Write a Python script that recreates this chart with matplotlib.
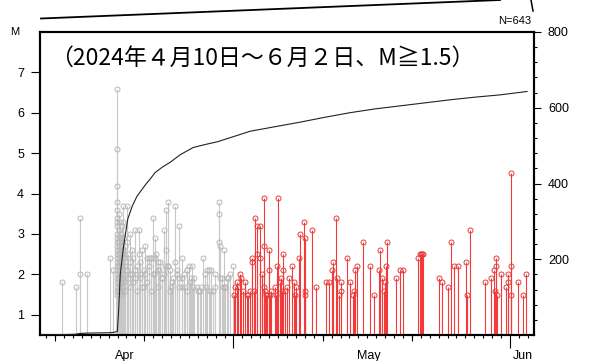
import matplotlib
matplotlib.use('Agg')
import matplotlib.pyplot as plt
from matplotlib.lines import Line2D
import numpy as np

# ---------------- data (days since 2024-04-10 00:00) ----------------
event_day = [
    1.76, 3.33, 3.73, 3.73, 4.60, 7.10, 7.54,
    7.97, 7.97, 7.97, 7.97, 7.97, 7.97, 7.97, 7.97, 7.97, 7.97, 7.97, 7.97,
    7.97, 7.97, 7.97, 7.97, 7.97, 7.97, 7.97, 7.97, 7.97, 7.97, 7.97, 7.97,
    8.11, 8.11, 8.11, 8.11, 8.11, 8.11, 8.11,
    8.22, 8.22, 8.22, 8.22, 8.22, 8.22,
    8.33, 8.33, 8.33, 8.33, 8.33, 8.33,
    8.44, 8.44, 8.44, 8.44, 8.44, 8.44,
    8.60, 8.60, 8.60, 8.60, 8.60,
    8.74, 8.74, 8.74, 8.86, 8.86, 8.86, 9.05, 9.05, 9.05,
    9.19, 9.19, 9.42, 9.42, 9.42, 9.59, 9.59, 9.75, 9.75,
    9.98, 9.98, 10.15, 10.15, 10.35, 10.35, 10.54, 10.54, 10.76, 10.76,
    10.93, 11.10, 11.10, 11.32, 11.32, 11.55, 11.72, 11.72, 11.96, 11.96,
    12.22, 12.22, 12.33, 12.56, 12.56, 12.78, 12.95, 13.26, 13.26,
    13.45, 13.45, 13.64, 13.64, 13.90, 13.90, 14.13, 14.46, 14.46, 14.69,
    14.94, 14.94, 15.21, 15.21, 15.47, 15.84, 15.84, 16.09, 16.33, 16.59,
    16.93, 17.26, 17.63, 17.88, 18.20, 18.46, 18.69, 18.95,
    19.32, 19.32, 19.32, 19.51, 19.70, 19.88, 20.07, 20.40, 20.63, 20.93,
    9.42, 9.98, 10.54, 10.91, 11.47, 11.77, 12.03, 12.48, 12.67, 12.97,
    13.34, 13.71, 13.98, 14.27, 14.65, 14.94, 15.21, 15.58, 15.77, 16.03,
    16.22, 16.45, 17.07, 17.38, 17.83, 18.01, 18.39, 18.95, 19.51, 19.81,
    20.07, 20.26,
    # May onward
    21.04, 21.22, 21.41, 21.52, 21.72, 21.89, 22.09, 22.28, 22.46, 22.65,
    22.90, 23.02, 23.09, 23.32, 23.46, 23.58, 23.58, 24.02, 24.02, 24.22,
    24.41, 24.41, 24.41, 24.52, 24.70, 24.81, 25.00, 25.00, 25.08, 25.26,
    25.64, 25.82, 25.90, 26.01, 26.27, 26.38, 26.46, 26.57, 26.57, 26.76,
    27.05, 27.21, 27.61, 27.80, 27.88, 27.99, 28.33, 28.44, 28.89,
    29.00, 29.00, 29.00, 29.85, 30.30, 31.42, 31.73, 32.10, 32.17, 32.55,
    32.66, 32.85, 33.11, 33.11, 33.74, 34.11, 34.42, 34.53, 34.68, 34.90,
    35.54, 36.36, 36.77, 37.33, 37.41, 37.67, 37.93, 37.97, 38.15, 38.26,
    39.24, 39.69, 40.06, 41.67, 41.93, 42.04, 42.19, 42.30,
    44.06, 44.36, 45.10, 45.37, 45.74, 46.15, 47.05, 47.16, 47.53,
    49.22, 49.85, 50.22, 50.34, 50.45, 50.45, 50.59, 50.98, 51.54, 51.76,
    51.83, 52.13, 52.13, 52.13, 52.88, 53.51, 53.78,
]
event_mag = [
    1.8, 1.7, 3.4, 2.0, 2.0, 2.4, 2.1,
    6.6, 5.1, 4.2, 3.8, 3.6, 3.4, 3.3, 3.2, 3.0, 2.9, 2.8, 2.7,
    2.6, 2.5, 2.4, 2.3, 2.2, 2.1, 2.0, 1.9, 1.8, 1.7, 1.6, 1.5,
    3.5, 3.1, 2.8, 2.5, 2.2, 1.9, 1.6,
    3.3, 2.9, 2.6, 2.3, 2.0, 1.7,
    3.0, 2.7, 2.4, 2.1, 1.8, 1.5,
    3.2, 2.8, 2.5, 2.2, 1.9, 1.6,
    3.7, 3.3, 2.6, 2.0, 1.7,
    2.9, 2.4, 1.8, 2.7, 2.2, 1.6, 3.7, 2.8, 2.1,
    2.5, 1.9, 3.0, 2.3, 1.7, 2.6, 2.0, 2.4, 1.8,
    3.1, 2.1, 2.2, 1.6, 3.1, 2.5, 2.3, 1.9, 2.6, 1.7,
    2.1, 2.7, 2.0, 2.4, 1.8, 2.2, 2.4, 1.6, 3.4, 2.0,
    2.9, 2.4, 2.5, 2.1, 1.7, 2.3, 1.9, 3.1, 2.0,
    3.6, 2.6, 3.8, 2.2, 2.1, 1.6, 1.8, 3.7, 2.3, 2.0,
    3.2, 1.9, 2.4, 1.7, 2.0, 2.1, 1.6, 1.8, 2.2, 1.9,
    1.7, 1.6, 2.4, 1.7, 2.1, 2.1, 1.6, 1.7,
    3.8, 3.5, 2.8, 2.7, 1.9, 2.6, 1.7, 1.9, 2.0, 2.2,
    2.0, 1.9, 2.0, 1.7, 2.4, 2.4, 2.0, 2.3, 2.1, 1.9,
    2.2, 2.2, 1.7, 1.9, 2.1, 1.7, 1.9, 1.7, 2.1, 2.2,
    1.9, 1.7, 1.6, 1.7, 2.0, 2.1, 1.6, 2.0, 1.9, 1.7,
    1.7, 1.9,
    # May onward
    1.5, 1.7, 1.8, 1.7, 2.0, 1.9, 1.6, 1.8, 1.5, 1.5,
    1.6, 2.3, 2.4, 1.6, 3.4, 3.2, 2.5, 3.2, 2.4, 2.0,
    3.9, 2.7, 1.7, 1.6, 1.5, 1.5, 2.6, 2.1, 1.5, 1.6,
    1.7, 1.5, 2.2, 3.9, 1.8, 1.9, 1.6, 2.5, 2.1, 1.6,
    1.7, 1.9, 2.2, 1.8, 1.5, 1.7, 2.4, 3.0, 3.3,
    2.9, 1.6, 1.5, 3.1, 1.7, 1.8, 1.8, 2.1, 2.3, 3.4,
    1.9, 1.5, 1.8, 1.6, 2.4, 1.8, 1.5, 1.6, 2.1, 2.2,
    2.8, 2.2, 1.5, 2.1, 2.6, 1.9, 1.6, 1.8, 2.2, 2.8,
    1.9, 2.1, 2.1, 2.4, 2.5, 2.5, 2.5, 2.5,
    1.9, 1.8, 1.7, 2.8, 2.2, 2.2, 2.3, 1.5, 3.1,
    1.8, 1.9, 2.1, 1.6, 2.2, 2.4, 1.5, 2.0, 1.7, 1.8,
    2.0, 4.5, 2.2, 1.5, 1.8, 1.5, 2.0,
]

cum_day = [-0.7, 1.76, 3.33, 3.73, 4.60, 7.10, 7.54, 7.97, 8.11, 8.30, 8.67,
           9.14, 9.64, 10.17, 10.54, 11.10, 11.66, 12.22, 13.0, 13.90, 15.02,
           16.48, 17.83, 19.17, 20.63, 22.87, 25.67, 28.48, 31.28, 34.08,
           36.88, 39.69, 42.49, 45.29, 48.09, 50.90, 53.92]
cum_count = [0, 1, 2, 4, 5, 6, 7, 9, 60, 160, 234,
             306, 340, 366, 378, 396, 412, 429, 443, 456, 476,
             495, 503, 510, 521, 538, 550, 562, 575, 587,
             597, 605, 613, 621, 628, 634, 643]

month_labels = ['Apr', 'May', 'Jun']
month_label_day = [8.86, 36.2, 53.4]
mag_ticks = [1, 2, 3, 4, 5, 6, 7]
count_ticks = [200, 400, 600, 800]
title_text = '（2024年４月10日～６月２日、M≧1.5）'
n_text = 'N=643'
split_day = 21.0   # May 1

# ---------------- figure ----------------
W, H = 589, 361
fig = plt.figure(figsize=(W / 100, H / 100), dpi=100)
L, R, T, B = 40, 534, 32, 335
ax = fig.add_axes([L / W, 1 - B / H, (R - L) / W, (B - T) / H])
tick_font = 'Liberation Sans'

day = np.array(event_day)
mag = np.array(event_mag)
gray = day < split_day
red = ~gray

ax.vlines(day[gray], 0.5, mag[gray], color='#c8c8c8', lw=0.8, zorder=2)
ax.plot(day[gray], mag[gray], 'o', ms=3.6, mfc='none', mec='#b8b8b8', mew=0.7, zorder=3)
ax.vlines(day[red], 0.5, mag[red], color='#f23a3a', lw=0.8, zorder=4)
ax.plot(day[red], mag[red], 'o', ms=3.6, mfc='none', mec='#e83c3c', mew=0.7, zorder=5)

ax.set_xlim(-0.7, 54.7)
ax.set_ylim(0.5, 8.0)

# x ticks: daily minor, month-start long major
ax.set_xticks([21, 52])
ax.set_xticklabels([])
ax.set_xticks(np.arange(0, 55, 1), minor=True)
ax.tick_params(axis='x', which='major', direction='out', length=9.5, width=0.8)
ax.tick_params(axis='x', which='minor', direction='out', length=2.3, width=0.8)
sec = ax.secondary_xaxis('bottom')
sec.set_xticks([1, 11, 31, 41])
sec.set_xticklabels([])
sec.tick_params(direction='out', length=4, width=0.8)
sec.spines['bottom'].set_visible(False)

for lab, d in zip(month_labels, month_label_day):
    ax.text(d, -0.07, lab, transform=ax.get_xaxis_transform(), ha='center',
            va='center', fontsize=9, family=tick_font)

ax.set_yticks(mag_ticks)
ax.set_yticklabels([str(v) for v in mag_ticks], family=tick_font, fontsize=9)
ax.tick_params(axis='y', direction='out', length=6.5, width=0.8, pad=5)

for s in ax.spines.values():
    s.set_linewidth(1.5)

ax2 = ax.twinx()
ax2.plot(cum_day, cum_count, color='#222222', lw=0.8, zorder=6)
ax2.set_ylim(0, 800)
ax2.set_yticks(count_ticks)
ax2.set_yticklabels([str(v) for v in count_ticks], family=tick_font, fontsize=9)
ax2.set_yticks(np.arange(40, 800, 40), minor=True)
ax2.tick_params(axis='y', which='major', direction='out', length=5, width=0.8, pad=5)
ax2.tick_params(axis='y', which='minor', direction='out', length=2.3, width=0.8)
for s in ax2.spines.values():
    s.set_linewidth(1.5)

# texts
fig.text(50 / W, 1 - 58 / H, title_text, ha='left', va='center', fontsize=16.5,
         family=['Noto Sans CJK JP', 'DejaVu Sans'])
fig.text(531 / W, 1 - 21 / H, n_text, ha='right', va='center', fontsize=8, family=tick_font)
fig.text(15 / W, 1 - 32 / H, 'M', ha='center', va='center', fontsize=8, family=tick_font)

# connector lines at the top (from the original map figure)
fig.add_artist(Line2D([41 / W, 500 / W], [1 - 18.5 / H, 1.0], transform=fig.transFigure,
                      color='black', lw=1.3))
fig.add_artist(Line2D([531 / W, 533 / W], [1.0, 1 - 11 / H], transform=fig.transFigure,
                      color='black', lw=1.1))

fig.savefig('out.png', dpi=100)
